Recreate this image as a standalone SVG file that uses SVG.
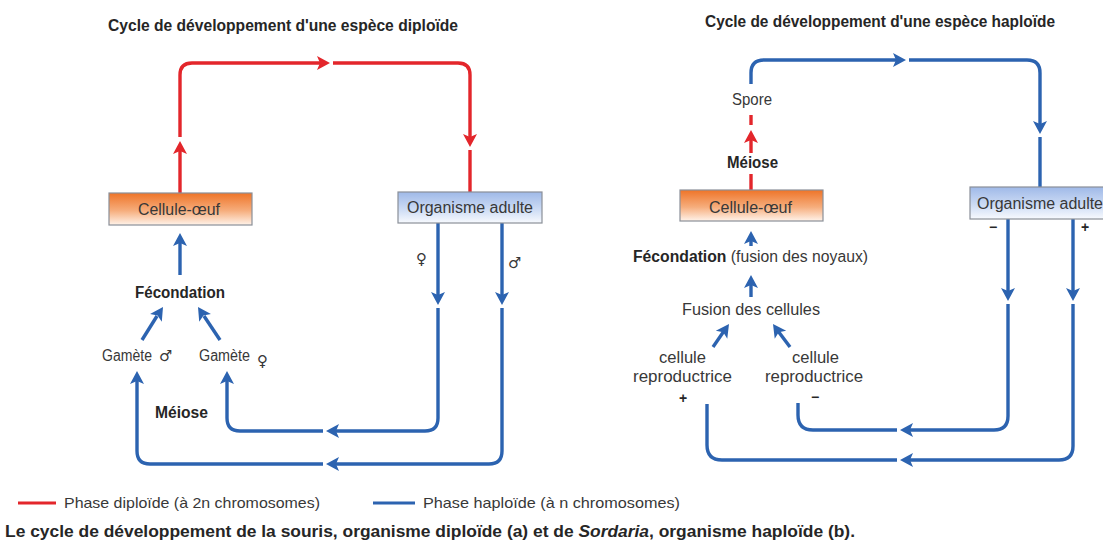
<svg xmlns="http://www.w3.org/2000/svg" width="1103" height="547" viewBox="0 0 1103 547">
<style>
.t{font-family:"Liberation Sans Narrow","Liberation Sans",Arial,sans-serif;fill:#383838;}
.b{font-weight:bold;fill:#262626;}
.lbl{font-size:16px;}
.red{fill:none;stroke:#e3262b;stroke-width:3.4;}
.blue{fill:none;stroke:#2c63b0;stroke-width:3.4;}
.rh{fill:#e3262b;}
.bh{fill:#2c63b0;}
.sym{font-family:"DejaVu Sans",sans-serif;fill:#383838;font-size:15px;}
.box{stroke:#8a8f98;stroke-width:1.2;}
</style>
<defs>
<linearGradient id="gO" x1="0" y1="0" x2="0" y2="1">
<stop offset="0" stop-color="#ee7428"/><stop offset="0.55" stop-color="#f6ad7c"/><stop offset="1" stop-color="#fff3ea"/>
</linearGradient>
<linearGradient id="gB" x1="0" y1="0" x2="0" y2="1">
<stop offset="0" stop-color="#9fb9e8"/><stop offset="0.6" stop-color="#d0def5"/><stop offset="1" stop-color="#f8fafe"/>
</linearGradient>
<path id="ah" d="M0,0 L-13,-7 L-10,0 L-13,7 Z"/>
</defs>
<rect width="1103" height="547" fill="#fff"/>

<!-- titles -->
<text class="t b" x="108" y="31" font-size="16" textLength="350" lengthAdjust="spacingAndGlyphs">Cycle de développement d'une espèce diploïde</text>
<text class="t b" x="705" y="27" font-size="16" textLength="350" lengthAdjust="spacingAndGlyphs">Cycle de développement d'une espèce haploïde</text>

<!-- connectors -->
<g id="connectors">
<!-- left red loop -->
<path class="red" d="M180,193 V151"/>
<use href="#ah" class="rh" transform="translate(180,141) rotate(-90)"/>
<path class="red" d="M180,137 V75 Q180,63 192,63 H321"/>
<use href="#ah" class="rh" transform="translate(330,63)"/>
<path class="red" d="M333,63 H458 Q470,63 470,75 V138"/>
<use href="#ah" class="rh" transform="translate(470,147) rotate(90)"/>
<path class="red" d="M470,150 V192"/>
<!-- left blue -->
<path class="blue" d="M180,275 V243"/>
<use href="#ah" class="bh" transform="translate(180,233) rotate(-90)"/>
<path class="blue" d="M142,340 L157,316"/>
<use href="#ah" class="bh" transform="translate(163,307) rotate(-57)"/>
<path class="blue" d="M220,340 L204,316"/>
<use href="#ah" class="bh" transform="translate(198,307) rotate(-123)"/>
<path class="blue" d="M438,223 V296"/>
<use href="#ah" class="bh" transform="translate(438,305) rotate(90)"/>
<path class="blue" d="M438,308 V418 Q438,431 425,431 H335"/>
<use href="#ah" class="bh" transform="translate(326,431) rotate(180)"/>
<path class="blue" d="M323,431 H240 Q227,431 227,418 V380"/>
<use href="#ah" class="bh" transform="translate(227,371) rotate(-90)"/>
<path class="blue" d="M502,223 V296"/>
<use href="#ah" class="bh" transform="translate(502,305) rotate(90)"/>
<path class="blue" d="M502,308 V451 Q502,464 489,464 H335"/>
<use href="#ah" class="bh" transform="translate(326,464) rotate(180)"/>
<path class="blue" d="M323,464 H150 Q137,464 137,451 V380"/>
<use href="#ah" class="bh" transform="translate(137,371) rotate(-90)"/>

<!-- right -->
<path class="blue" d="M751,84 V73 Q751,60 764,60 H897"/>
<use href="#ah" class="bh" transform="translate(906,60)"/>
<path class="blue" d="M909,60 H1027 Q1040,60 1040,73 V125"/>
<use href="#ah" class="bh" transform="translate(1040,134) rotate(90)"/>
<path class="blue" d="M1040,137 V187"/>
<path class="red" d="M751,115 V125"/>
<use href="#ah" class="rh" transform="translate(751,130) rotate(-90)"/>
<path class="red" d="M751,137 V153"/>
<path class="red" d="M751,174 V190"/>
<path class="blue" d="M751,246 V240"/>
<use href="#ah" class="bh" transform="translate(751,231) rotate(-90)"/>
<path class="blue" d="M751,297 V284"/>
<use href="#ah" class="bh" transform="translate(751,275) rotate(-90)"/>
<path class="blue" d="M713,347 L724,331"/>
<use href="#ah" class="bh" transform="translate(729,324) rotate(-55)"/>
<path class="blue" d="M790,347 L778,331"/>
<use href="#ah" class="bh" transform="translate(773,324) rotate(-125)"/>
<path class="blue" d="M1008,219 V292"/>
<use href="#ah" class="bh" transform="translate(1008,301) rotate(90)"/>
<path class="blue" d="M1008,304 V416 Q1008,430 994,430 H909"/>
<use href="#ah" class="bh" transform="translate(900,430) rotate(180)"/>
<path class="blue" d="M897,430 H813 Q798,430 798,415 V403"/>
<path class="blue" d="M1073,219 V292"/>
<use href="#ah" class="bh" transform="translate(1073,301) rotate(90)"/>
<path class="blue" d="M1073,304 V446 Q1073,460 1059,460 H909"/>
<use href="#ah" class="bh" transform="translate(900,460) rotate(180)"/>
<path class="blue" d="M897,460 H722 Q707,460 707,445 V404"/>
</g>

<!-- nodes -->
<g id="oeuf-a">
<rect class="box" x="109" y="193" width="143" height="32" fill="url(#gO)"/>
<text class="t lbl" x="138" y="215" textLength="82" lengthAdjust="spacingAndGlyphs">Cellule-œuf</text>
</g>
<g id="adulte-a">
<rect class="box" x="398" y="192" width="144" height="31" fill="url(#gB)"/>
<text class="t lbl" x="407" y="213" textLength="126" lengthAdjust="spacingAndGlyphs">Organisme adulte</text>
</g>
<g id="fecondation-a">
<text class="t b" x="135" y="298" font-size="16" textLength="90" lengthAdjust="spacingAndGlyphs">Fécondation</text>
</g>
<g id="gamete-m">
<text class="t" x="102" y="361" font-size="16" textLength="50" lengthAdjust="spacingAndGlyphs">Gamète</text>
<text class="sym" x="159" y="361" font-size="16">♂</text>
</g>
<g id="gamete-f">
<text class="t" x="199" y="361" font-size="16" textLength="51" lengthAdjust="spacingAndGlyphs">Gamète</text>
<text class="sym" x="257" y="366" font-size="14">♀</text>
</g>
<g id="meiose-a">
<text class="t b" x="155" y="418" font-size="16" textLength="53" lengthAdjust="spacingAndGlyphs">Méiose</text>
</g>
<g id="sym-a">
<text class="sym" x="416" y="264" font-size="16">♀</text>
<text class="sym" x="508" y="268" font-size="19">♂</text>
</g>

<g id="spore">
<text class="t" x="732" y="105" font-size="16" textLength="40" lengthAdjust="spacingAndGlyphs">Spore</text>
</g>
<g id="meiose-b">
<text class="t b" x="727" y="168" font-size="16" textLength="51" lengthAdjust="spacingAndGlyphs">Méiose</text>
</g>
<g id="oeuf-b">
<rect class="box" x="680" y="190" width="143" height="31" fill="url(#gO)"/>
<text class="t lbl" x="709" y="213" textLength="83" lengthAdjust="spacingAndGlyphs">Cellule-œuf</text>
</g>
<g id="adulte-b">
<rect class="box" x="970" y="187" width="140" height="32" fill="url(#gB)"/>
<text class="t lbl" x="977" y="209" textLength="126" lengthAdjust="spacingAndGlyphs">Organisme adulte</text>
<text class="t b" x="993" y="232" font-size="14" text-anchor="middle">−</text>
<text class="t b" x="1085" y="232" font-size="14" text-anchor="middle">+</text>
</g>
<g id="fecondation-b">
<text class="t" x="633" y="262" font-size="16" textLength="235" lengthAdjust="spacingAndGlyphs"><tspan class="b">Fécondation</tspan> (fusion des noyaux)</text>
</g>
<g id="fusion">
<text class="t" x="682" y="315" font-size="16" textLength="138" lengthAdjust="spacingAndGlyphs">Fusion des cellules</text>
</g>
<g id="repro-plus">
<text class="t" x="659" y="363" font-size="16" textLength="47" lengthAdjust="spacingAndGlyphs">cellule</text>
<text class="t" x="633" y="382" font-size="16" textLength="99" lengthAdjust="spacingAndGlyphs">reproductrice</text>
<text class="t b" x="683" y="403" font-size="14" text-anchor="middle">+</text>
</g>
<g id="repro-minus">
<text class="t" x="792" y="363" font-size="16" textLength="47" lengthAdjust="spacingAndGlyphs">cellule</text>
<text class="t" x="765" y="382" font-size="16" textLength="98" lengthAdjust="spacingAndGlyphs">reproductrice</text>
<text class="t b" x="815" y="402" font-size="14" text-anchor="middle">−</text>
</g>

<!-- legend -->
<g id="legend">
<line x1="18" y1="503" x2="56" y2="503" stroke="#e3262b" stroke-width="3"/>
<text class="t" x="64" y="508" font-size="15" textLength="256" lengthAdjust="spacingAndGlyphs">Phase diploïde (à 2n chromosomes)</text>
<line x1="373" y1="503" x2="415" y2="503" stroke="#2c63b0" stroke-width="3"/>
<text class="t" x="423" y="508" font-size="15" textLength="257" lengthAdjust="spacingAndGlyphs">Phase haploïde (à n chromosomes)</text>
</g>
<text class="t b" x="5" y="537" font-size="16" textLength="850" lengthAdjust="spacingAndGlyphs">Le cycle de développement de la souris, organisme diploïde (a) et de <tspan font-style="italic">Sordaria</tspan>, organisme haploïde (b).</text>
</svg>
